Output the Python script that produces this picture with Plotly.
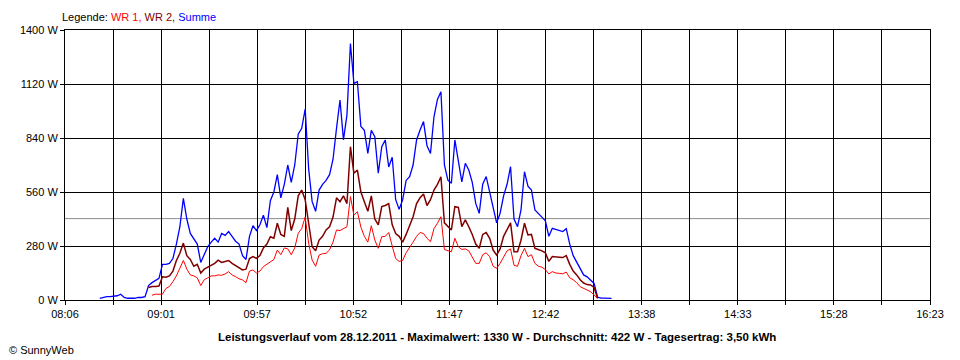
import plotly.graph_objects as go

# ---- data ----
times = [
    "08:24", "08:26", "08:28", "08:30", "08:32", "08:34", "08:36", "08:38", "08:40", "08:42",
    "08:44", "08:46", "08:48", "08:50", "08:52", "08:54", "08:56", "08:58", "09:00", "09:02",
    "09:04", "09:06", "09:08", "09:10", "09:12", "09:14", "09:16", "09:18", "09:20", "09:22",
    "09:24", "09:26", "09:28", "09:30", "09:32", "09:34", "09:36", "09:38", "09:40", "09:42",
    "09:44", "09:46", "09:48", "09:50", "09:52", "09:54", "09:56", "09:58", "10:00", "10:02",
    "10:04", "10:06", "10:08", "10:10", "10:12", "10:14", "10:16", "10:18", "10:20", "10:22",
    "10:24", "10:26", "10:28", "10:30", "10:32", "10:34", "10:36", "10:38", "10:40", "10:42",
    "10:44", "10:46", "10:48", "10:50", "10:52", "10:54", "10:56", "10:58", "11:00", "11:02",
    "11:04", "11:06", "11:08", "11:10", "11:12", "11:14", "11:16", "11:18", "11:20", "11:22",
    "11:24", "11:26", "11:28", "11:30", "11:32", "11:34", "11:36", "11:38", "11:40", "11:42",
    "11:44", "11:46", "11:48", "11:50", "11:52", "11:54", "11:56", "11:58", "12:00", "12:02",
    "12:04", "12:06", "12:08", "12:10", "12:12", "12:14", "12:16", "12:18", "12:20", "12:22",
    "12:24", "12:26", "12:28", "12:30", "12:32", "12:34", "12:36", "12:38", "12:40", "12:42",
    "12:44", "12:46", "12:48", "12:50", "12:52", "12:54", "12:56", "12:58", "13:00", "13:02",
    "13:04", "13:06", "13:08", "13:10", "13:12", "13:14", "13:16", "13:18", "13:20",
]

summe = [
    None,
    9, 13, 17, 17, 20, 22, 30, 13, 9, 9, 9, 13, 13, 17,
    75, 90, 100, 112, 185, 185, 190, 215, 290, 380, 527, 420, 345, 315, 290,
    195, 240, 276, 300, 320, 300, 345, 335, 355, 330, 305, 290, 230, 210, 330, 385, 360, 390, 440, 375,
    515, 560, 650, 530, 600, 700, 610, 700, 860, 890, 990, 680, 510, 460, 570, 600, 620, 650, 730, 890,
    1037, 830, 960, 1330, 1123, 1132, 900, 880, 760, 880, 847, 657, 795, 830, 690, 740, 520, 470, 520, 620,
    640, 700, 830, 881, 925, 800, 760, 950, 1040, 1080, 700, 622, 605, 830, 726, 613, 709, 674, 610, 501,
    449, 600, 640, 560, 484, 400, 450, 540, 600, 691, 420, 380, 467, 665, 590, 570, 467, 450, 430, 410,
    330, 372, 365, 360, 355, 370, 290, 230, 195, 165, 130, 120, 104, 86, 15, 10, 10, 8, 8,
]

wr2 = [
    None, None, None, None, None, None, None, None, None, None, None, None, None, None, None,
    65, 70, 70, 72, 120, 118, 125, 150, 205, 242, 295, 230, 210, 175, 185,
    140, 160, 170, 180, 190, 207, 195, 200, 205, 190, 180, 170, 156, 160, 215, 225, 216, 230, 270, 290,
    328, 320, 398, 340, 330, 480, 360, 420, 540, 570, 520, 398, 276, 255, 311, 330, 363, 380, 430, 530,
    510, 540, 500, 795, 657, 674, 560, 510, 460, 540, 420, 390, 484, 490, 500, 390, 345, 330, 300, 340,
    390, 432, 500, 530, 550, 490, 520, 570, 600, 639, 400, 380, 363, 484, 480, 380, 415, 380, 340, 290,
    268, 340, 350, 320, 259, 233, 265, 330, 363, 400, 250, 250, 310, 398, 337, 340, 268, 262, 255, 245,
    200, 225, 225, 222, 220, 230, 185, 150, 130, 105, 88, 80, 78, 65, 9, None, None, None, None,
]

wr1 = [
    None, None, None, None, None, None, None, None, None, None, None, None, None, None, None, None,
    25, 30, 30, 30, 60, 70, 95, 125, 165, 205, 160, 130, 125, 115,
    75, 105, 115, 125, 125, 130, 128, 135, 147, 130, 121, 110, 104, 90, 150, 156, 140, 150, 173, 185,
    199, 210, 259, 235, 270, 265, 235, 270, 346, 370, 430, 294, 207, 175, 233, 240, 242, 260, 300, 363,
    360, 370, 380, 536, 440, 458, 378, 330, 300, 385, 311, 268, 328, 330, 350, 280, 215, 200, 205, 245,
    270, 300, 330, 350, 345, 320, 302, 370, 398, 432, 262, 255, 250, 320, 276, 262, 265, 255, 225, 190,
    190, 235, 245, 225, 175, 164, 190, 225, 255, 265, 180, 175, 230, 268, 225, 235, 190, 175, 170, 158,
    135, 147, 140, 138, 136, 145, 115, 105, 90, 69, 60, 52, 43, 26, 8, None, None, None, None,
]

average_w = 422
x_tick_labels = ["08:06", "09:01", "09:57", "10:52", "11:47", "12:42", "13:38", "14:33", "15:28", "16:23"]
y_tick_values = [0, 280, 560, 840, 1120, 1400]
title_text = ("Leistungsverlauf vom 28.12.2011 - Maximalwert: 1330 W - "
              "Durchschnitt: 422 W - Tagesertrag: 3,50 kWh")

# ---- helpers ----
def to_min(s):
    h, m = s.split(":")
    return int(h) * 60 + int(m)

xs = [to_min(t) for t in times]
x_start = to_min(x_tick_labels[0])
x_end = to_min(x_tick_labels[-1])
n_int = (len(x_tick_labels) - 1) * 2
step = (x_end - x_start) / n_int
tickvals = [x_start + i * step for i in range(n_int + 1)]
ticktext = [x_tick_labels[i // 2] if i % 2 == 0 else "" for i in range(n_int + 1)]

FONT = "Liberation Sans"

fig = go.Figure()
fig.add_trace(go.Scatter(x=xs, y=summe, mode="lines", name="Summe",
                         line=dict(color="#0000FF", width=1.3)))
fig.add_trace(go.Scatter(x=xs, y=wr2, mode="lines", name="WR 2",
                         line=dict(color="#800000", width=1.5)))
fig.add_trace(go.Scatter(x=xs, y=wr1, mode="lines", name="WR 1",
                         line=dict(color="#FF0000", width=1)))

fig.add_shape(type="line", xref="paper", x0=0, x1=1, yref="y", y0=average_w, y1=average_w,
              line=dict(color="#8C8C8C", width=1), layer="below")

# page body adds an 8px offset, so the figure is 952x352 with margins shifted accordingly
fig.update_layout(
    width=952, height=352,
    margin=dict(l=52, r=30, t=22, b=60),
    paper_bgcolor="white", plot_bgcolor="white",
    showlegend=False,
    font=dict(family=FONT, size=11, color="black"),
    xaxis=dict(range=[x_start, x_end], tickmode="array", tickvals=tickvals, ticktext=ticktext,
               showgrid=True, gridcolor="black", gridwidth=1, zeroline=False,
               showline=True, linecolor="black", linewidth=1, mirror=True,
               ticks="outside", ticklen=4, tickcolor="black", tickfont=dict(size=11)),
    yaxis=dict(range=[0, 1400], tickmode="array", tickvals=y_tick_values,
               ticktext=[f"{v} W" for v in y_tick_values],
               showgrid=True, gridcolor="black", gridwidth=1, zeroline=False,
               showline=True, linecolor="black", linewidth=1, mirror=True,
               ticks="outside", ticklen=4, tickcolor="black", tickfont=dict(size=11)),
    annotations=[
        dict(xref="paper", yref="paper", x=0, y=1.0, yshift=13, xshift=-5,
             xanchor="left", yanchor="middle", showarrow=False, font=dict(size=11),
             text=("Legende: <span style='color:#FF0000'>WR 1, </span>"
                   "<span style='color:#800000'>WR 2, </span>"
                   "<span style='color:#0000FF'>Summe</span>")),
        dict(xref="paper", yref="paper", x=0.499, y=0, yshift=-37, xanchor="center", yanchor="middle",
             showarrow=False, font=dict(size=11.5), text=f"<b>{title_text}</b>"),
        dict(xref="paper", yref="paper", x=-0.0598, y=0, yshift=-50, xshift=-6,
             xanchor="left", yanchor="middle", showarrow=False, font=dict(size=11),
             text="© SunnyWeb"),
    ],
)

fig.write_html("out.html")
